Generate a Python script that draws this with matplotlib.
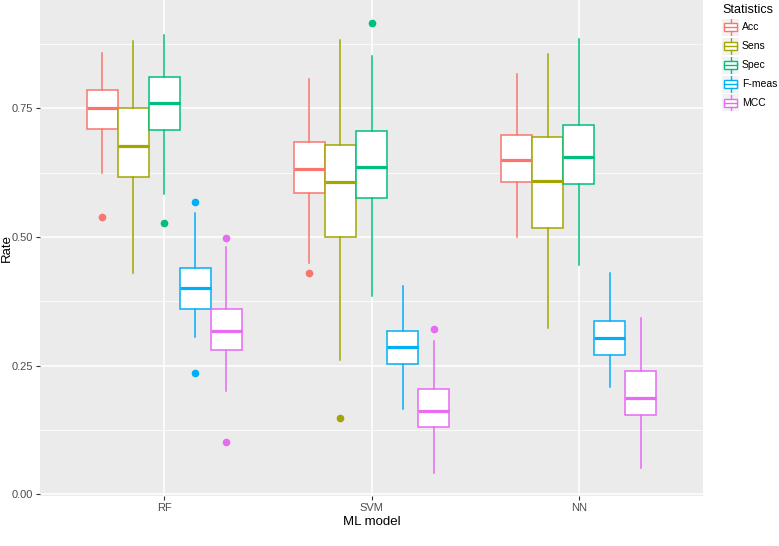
import numpy as np
import matplotlib
matplotlib.use("Agg")
import matplotlib.pyplot as plt
from matplotlib.patches import Rectangle

plt.rcParams['font.family'] = ['Liberation Sans', 'DejaVu Sans']

# data
models = ["RF", "SVM", "NN"]
stats_names = ["Acc", "Sens", "Spec", "F-meas", "MCC"]
colors = ["#F8766D", "#A3A500", "#00BF7D", "#00B0F6", "#E76BF3"]

# each entry: (whislo, q1, med, q3, whishi)
rf_box = [(0.624, 0.709, 0.750, 0.786, 0.857),
          (0.430, 0.617, 0.677, 0.750, 0.880),
          (0.583, 0.708, 0.760, 0.811, 0.892),
          (0.306, 0.360, 0.400, 0.440, 0.547),
          (0.200, 0.280, 0.317, 0.361, 0.481)]
svm_box = [(0.450, 0.585, 0.631, 0.684, 0.807),
           (0.261, 0.499, 0.607, 0.679, 0.883),
           (0.386, 0.576, 0.636, 0.705, 0.852),
           (0.165, 0.253, 0.287, 0.317, 0.404),
           (0.041, 0.130, 0.162, 0.204, 0.297)]
nn_box = [(0.499, 0.607, 0.649, 0.698, 0.817),
          (0.324, 0.517, 0.609, 0.694, 0.855),
          (0.445, 0.603, 0.656, 0.718, 0.884),
          (0.209, 0.271, 0.303, 0.337, 0.430),
          (0.052, 0.154, 0.188, 0.240, 0.343)]
rf_out = [[0.539], [], [0.527], [0.568, 0.235], [0.498, 0.101]]
svm_out = [[0.430], [0.148], [0.915], [], [0.322]]
nn_out = [[], [], [], [], []]

boxes = [rf_box, svm_box, nn_box]
outliers = [rf_out, svm_out, nn_out]

fig = plt.figure(figsize=(7.79, 5.46), dpi=100)
ax = fig.add_axes([40 / 779, 50 / 546, 663 / 779, 496 / 546])
ax.set_facecolor("#EBEBEB")

offsets = [-0.3, -0.15, 0.0, 0.15, 0.3]
for i, m in enumerate(models):
    for j in range(5):
        lo, q1, med, q3, hi = boxes[i][j]
        st = dict(whislo=lo, q1=q1, med=med, q3=q3, whishi=hi,
                  fliers=outliers[i][j])
        c = colors[j]
        ax.bxp([st], positions=[i + 1 + offsets[j]], widths=0.15,
               showcaps=False, patch_artist=True,
               boxprops=dict(facecolor="white", edgecolor=c, linewidth=1.1),
               whiskerprops=dict(color=c, linewidth=1.1),
               medianprops=dict(color=c, linewidth=2.3, solid_capstyle="butt"),
               flierprops=dict(marker="o", markerfacecolor=c,
                               markeredgecolor=c, markersize=4.5),
               zorder=3)

ax.set_xlim(0.4, 3.6)
ax.set_ylim(-0.003, 0.96)
ax.set_xticks([1, 2, 3])
ax.set_xticklabels(models)
ax.set_yticks([0.0, 0.25, 0.5, 0.75])
ax.set_yticklabels(["0.00", "0.25", "0.50", "0.75"])
ax.set_yticks([0.125, 0.375, 0.625, 0.875], minor=True)
ax.grid(True, which="major", color="white", linewidth=1.1, zorder=0)
ax.grid(True, which="minor", axis="y", color="white", linewidth=0.55, zorder=0)
ax.set_axisbelow(True)
for s in ax.spines.values():
    s.set_visible(False)
ax.tick_params(axis="both", which="major", length=3, width=0.8,
               color="#333333", labelcolor="#4D4D4D", labelsize=8, pad=2)
ax.tick_params(axis="y", which="minor", length=0)
ax.set_xlabel("ML model", fontsize=9.5, labelpad=2)
ax.set_ylabel("Rate", fontsize=9.5)
ax.yaxis.set_label_coords(-0.041, 0.5)

# legend drawn by hand to mimic the ggplot boxplot keys
fig.text(722 / 779, 1 - 10 / 546, "Statistics", fontsize=9,
         va="center", ha="left")
key_w, key_h = 17, 17
for j, name in enumerate(stats_names):
    yc = 27 + j * 19
    x0 = 722
    lax = fig.add_axes([x0 / 779, 1 - (yc + key_h / 2) / 546,
                        key_w / 779, key_h / 546])
    lax.set_xlim(0, 1)
    lax.set_ylim(0, 1)
    lax.axis("off")
    lax.add_patch(Rectangle((0, 0), 1, 1, facecolor="#F2F2F2",
                            edgecolor="none"))
    c = colors[j]
    lax.plot([0.5, 0.5], [0.05, 0.25], color=c, lw=1.0)
    lax.plot([0.5, 0.5], [0.75, 0.95], color=c, lw=1.0)
    lax.add_patch(Rectangle((0.1, 0.25), 0.8, 0.5, facecolor="white",
                            edgecolor=c, lw=1.0))
    lax.plot([0.1, 0.9], [0.5, 0.5], color=c, lw=1.0)
    fig.text((x0 + key_w + 3) / 779, 1 - yc / 546, name, fontsize=7.5,
             va="center", ha="left")

fig.savefig("out.png", dpi=100)
